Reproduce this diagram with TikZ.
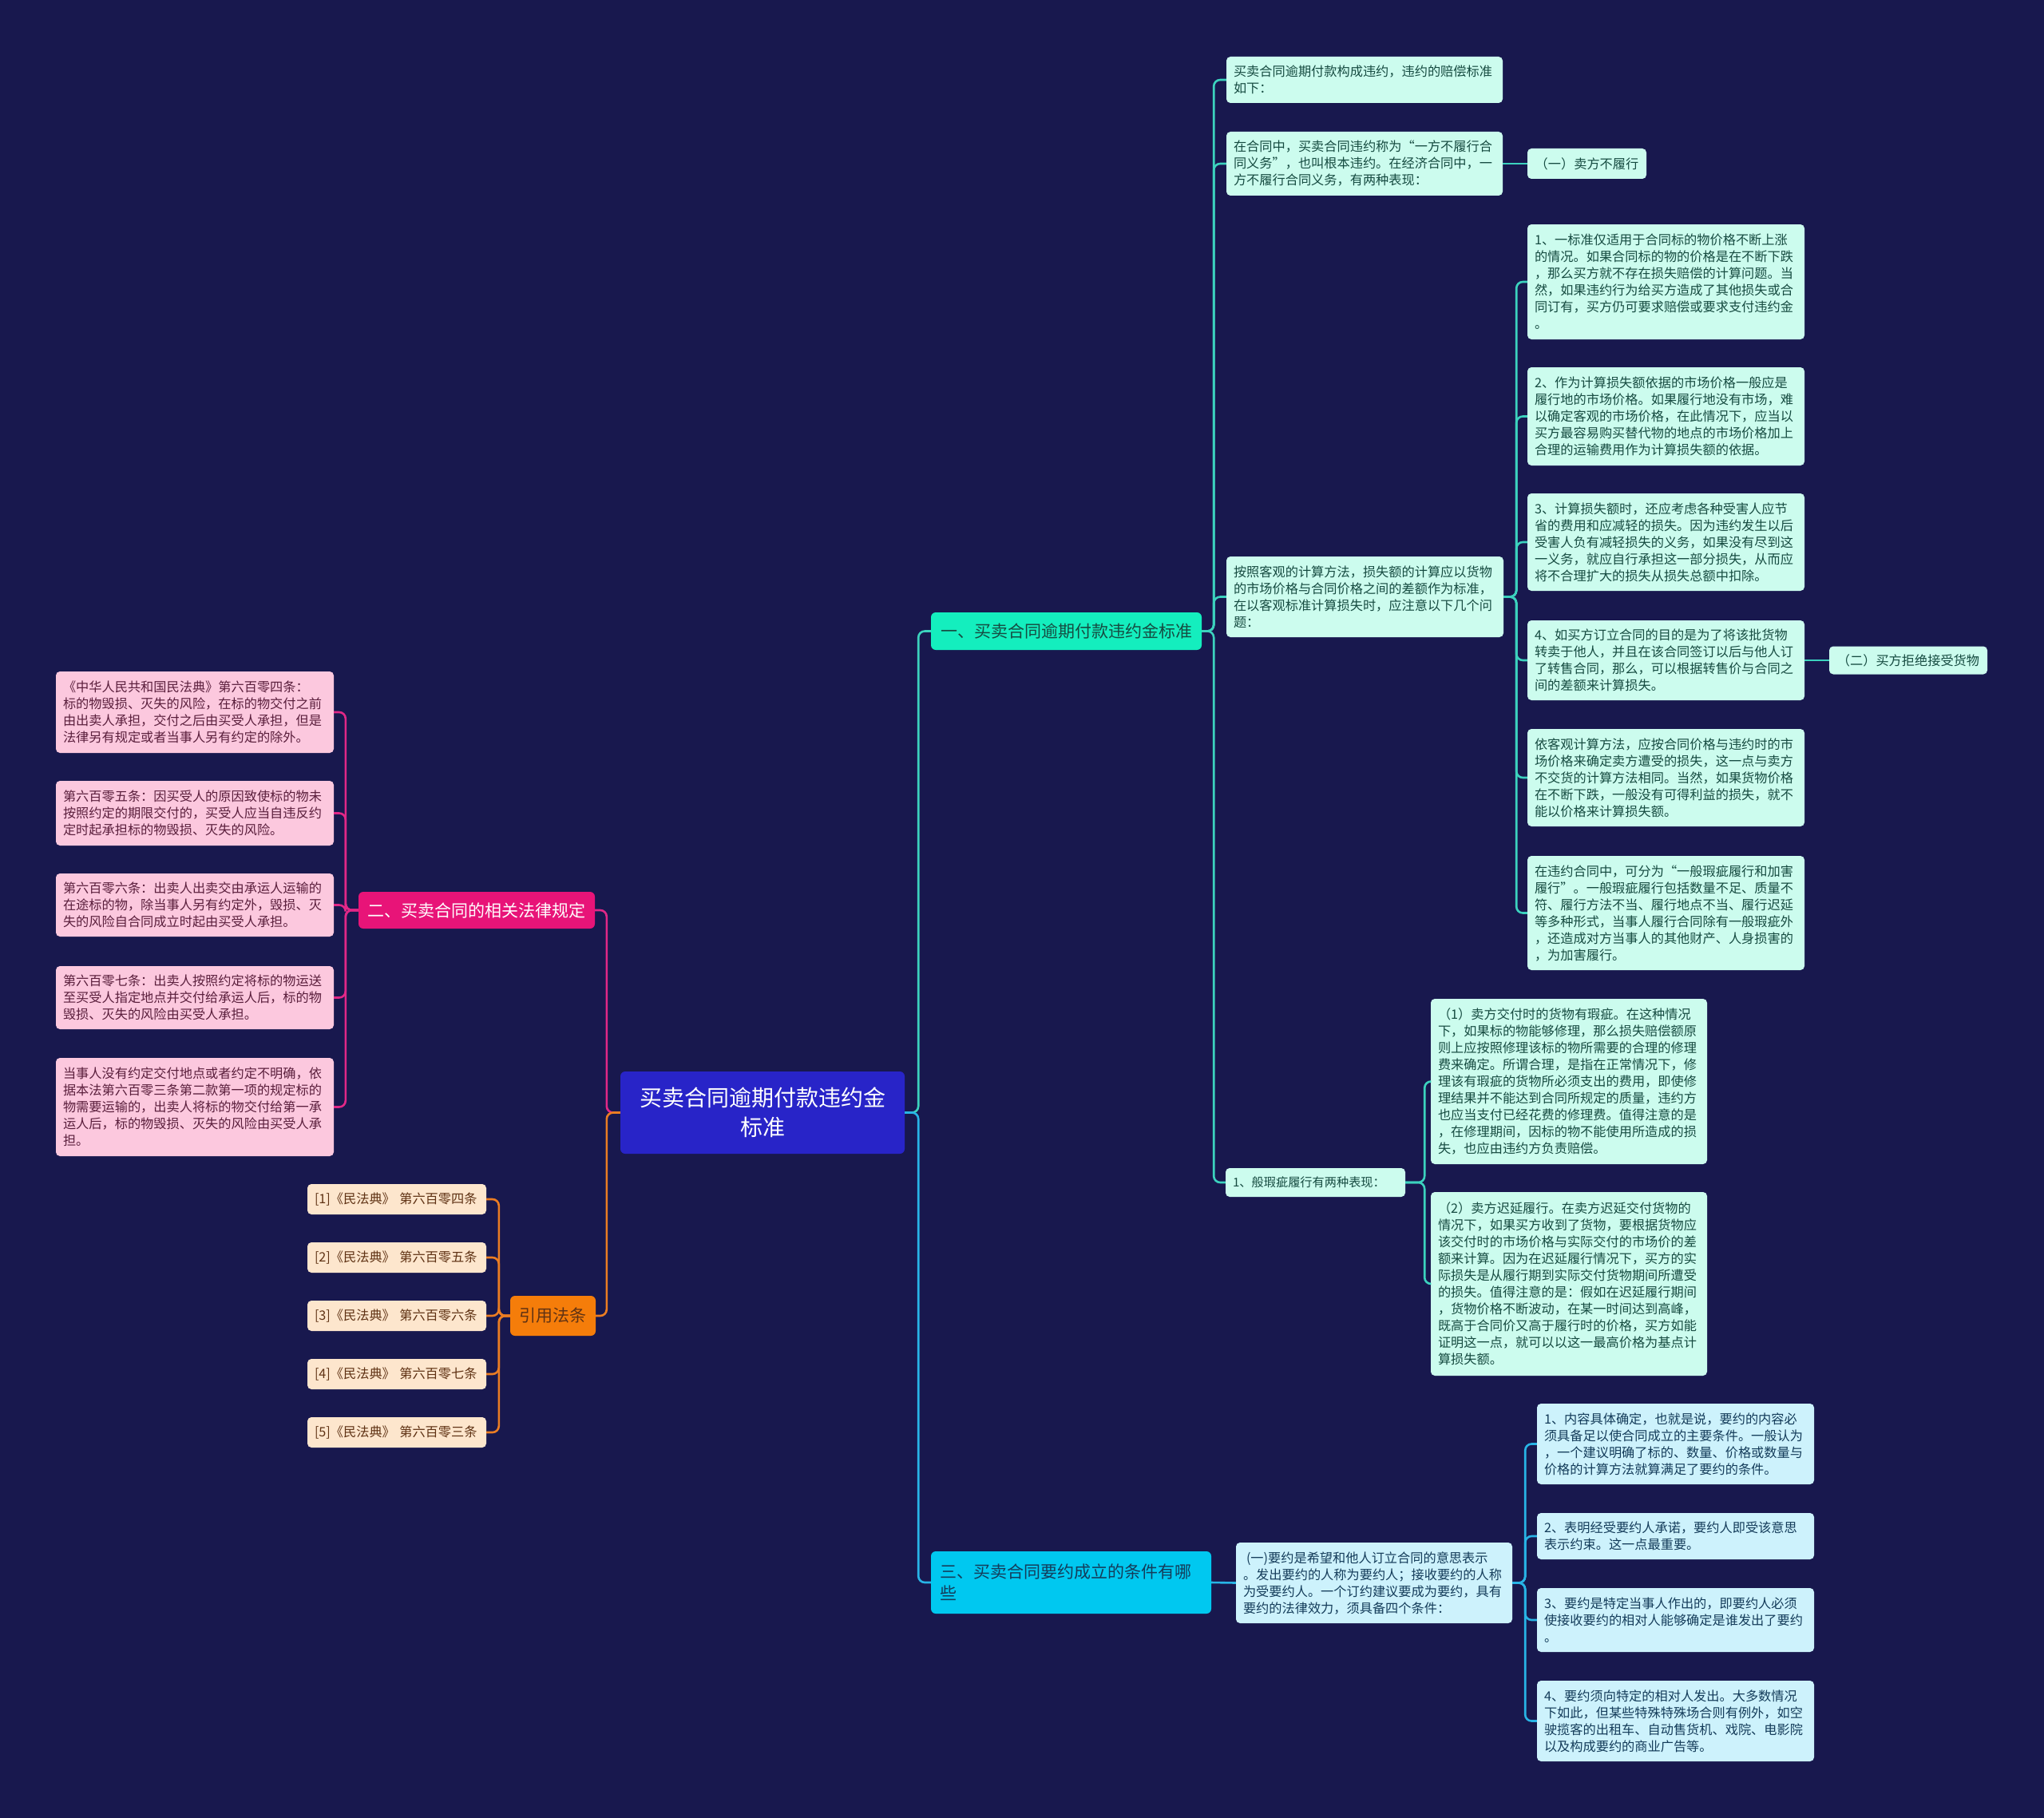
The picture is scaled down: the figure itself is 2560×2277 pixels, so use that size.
\documentclass[tikz,border=0pt]{standalone}
\usepackage{fontspec}
\setmainfont{Noto Sans CJK SC}
\usetikzlibrary{positioning}
\definecolor{bgc}{RGB}{24,24,78}
\definecolor{rootc}{RGB}{40,36,200}
\definecolor{topc1}{RGB}{20,238,190}
\definecolor{topc2}{RGB}{232,20,120}
\definecolor{topc3}{RGB}{0,200,240}
\definecolor{topc4}{RGB}{245,125,10}
\definecolor{lk1}{RGB}{60,210,190}
\definecolor{lk2}{RGB}{225,40,135}
\definecolor{lk3}{RGB}{40,180,230}
\definecolor{lk4}{RGB}{235,125,35}
\definecolor{lf1}{RGB}{204,252,238}
\definecolor{lf2}{RGB}{252,200,222}
\definecolor{lf3}{RGB}{205,242,252}
\definecolor{lf4}{RGB}{253,230,205}
\definecolor{tx1}{RGB}{22,75,65}
\definecolor{tx2}{RGB}{90,30,60}
\definecolor{tx3}{RGB}{20,60,90}
\definecolor{tx4}{RGB}{95,50,20}
\newcommand{\leaffont}{\fontsize{16.2}{21}\selectfont}
\newcommand{\smleaffont}{\fontsize{15.2}{21}\selectfont}
\newcommand{\topicfont}{\fontsize{21}{27}\selectfont}
\newcommand{\rootfont}{\fontsize{28}{37}\selectfont}
\tikzset{
rootbox/.style = {fill=rootc, text=white, rounded corners=6pt, align=center,
                  font=\rootfont, minimum width=356pt, minimum height=103pt},
topicbox/.style = {rounded corners=6pt, font=\topicfont, inner xsep=11pt, inner ysep=0pt},
leafbox/.style = {rounded corners=5pt, font=\leaffont, align=left,
                  inner xsep=9pt, inner ysep=0pt, text width=329pt},
leaf1/.style = {leafbox, fill=lf1, text=tx1},
leaf2/.style = {leafbox, fill=lf2, text=tx2, text width=330pt},
leaf3/.style = {leafbox, fill=lf3, text=tx3},
leaf4/.style = {leafbox, fill=lf4, text=tx4, text width=206pt, minimum height=38pt},
link1/.style = {draw=lk1, line width=2.6pt, rounded corners=8pt},
link2/.style = {draw=lk2, line width=2.6pt, rounded corners=8pt},
link3/.style = {draw=lk3, line width=2.6pt, rounded corners=8pt},
link4/.style = {draw=lk4, line width=2.6pt, rounded corners=8pt}
}
\begin{document}
\begin{tikzpicture}[x=1pt, y=-1pt]
    \fill[bgc] (0,0) rectangle (2560,2277);
    \useasboundingbox (0,0) rectangle (2560,2277);

    \node [rootbox] (root) at (955,1393.5) {买卖合同逾期付款违约金\\标准};

    \node [topicbox, fill=topc1, text=tx1, minimum width=339pt, minimum height=47pt]
    (br1) at (1335.5,790.5) {一、买卖合同逾期付款违约金标准};
    \node [topicbox, fill=topc3, text=tx3, minimum width=351pt, minimum height=78pt,
    text width=329pt, align=left] (br3) at (1341.5,1982) {三、买卖合同要约成立的条件有哪\\些};
    \node [topicbox, fill=topc2, text=white, minimum width=296pt, minimum height=46pt]
    (br2) at (597,1140) {二、买卖合同的相关法律规定};
    \node [topicbox, fill=topc4, text=tx4, minimum width=107pt, minimum height=50pt]
    (cite) at (692.5,1648) {引用法条};

    % first branch
    \node [leaf1, text width=328pt, minimum height=58pt] (a1) at (1709,100)
    {买卖合同逾期付款构成违约，违约的赔偿标准\\如下：};
    \node [leaf1, text width=328pt, minimum height=80pt] (a2) at (1709,205)
    {在合同中，买卖合同违约称为“一方不履行合\\同义务”，也叫根本违约。在经济合同中，一\\方不履行合同义务，有两种表现：};
    \node [leaf1, text width=131pt, align=center, minimum height=38pt] (s1) at (1987.5,205)
    {（一）卖方不履行};
    \node [leaf1, minimum height=101pt] (a3) at (1709.5,747.5)
    {按照客观的计算方法，损失额的计算应以货物\\的市场价格与合同价格之间的差额作为标准，\\在以客观标准计算损失时，应注意以下几个问\\题：};
    \node [leaf1, font=\smleaffont, text width=207pt, minimum height=36pt] (a4) at (1647.5,1481)
    {1、般瑕疵履行有两种表现：};

    \node [leaf1, minimum height=144pt] (p1) at (2086.5,353)
    {1、一标准仅适用于合同标的物价格不断上涨\\的情况。如果合同标的物的价格是在不断下跌\\，那么买方就不存在损失赔偿的计算问题。当\\然，如果违约行为给买方造成了其他损失或合\\同订有，买方仍可要求赔偿或要求支付违约金\\。};
    \node [leaf1, minimum height=123pt] (p2) at (2086.5,521.5)
    {2、作为计算损失额依据的市场价格一般应是\\履行地的市场价格。如果履行地没有市场，难\\以确定客观的市场价格，在此情况下，应当以\\买方最容易购买替代物的地点的市场价格加上\\合理的运输费用作为计算损失额的依据。};
    \node [leaf1, minimum height=122pt] (p3) at (2086.5,679)
    {3、计算损失额时，还应考虑各种受害人应节\\省的费用和应减轻的损失。因为违约发生以后\\受害人负有减轻损失的义务，如果没有尽到这\\一义务，就应自行承担这一部分损失，从而应\\将不合理扩大的损失从损失总额中扣除。};
    \node [leaf1, minimum height=100pt] (p4) at (2086.5,827)
    {4、如买方订立合同的目的是为了将该批货物\\转卖于他人，并且在该合同签订以后与他人订\\了转售合同，那么，可以根据转售价与合同之\\间的差额来计算损失。};
    \node [leaf1, text width=180pt, align=center, minimum height=35pt] (s2) at (2390,827)
    {（二）买方拒绝接受货物};
    \node [leaf1, minimum height=122pt] (p5) at (2086.5,974)
    {依客观计算方法，应按合同价格与违约时的市\\场价格来确定卖方遭受的损失，这一点与卖方\\不交货的计算方法相同。当然，如果货物价格\\在不断下跌，一般没有可得利益的损失，就不\\能以价格来计算损失额。};
    \node [leaf1, minimum height=143pt] (p6) at (2086.5,1143.5)
    {在违约合同中，可分为“一般瑕疵履行和加害\\履行”。一般瑕疵履行包括数量不足、质量不\\符、履行方法不当、履行地点不当、履行迟延\\等多种形式，当事人履行合同除有一般瑕疵外\\，还造成对方当事人的其他财产、人身损害的\\，为加害履行。};

    \node [leaf1, text width=328pt, minimum height=207pt] (q1) at (1965,1354.5)
    {（1）卖方交付时的货物有瑕疵。在这种情况\\下，如果标的物能够修理，那么损失赔偿额原\\则上应按照修理该标的物所需要的合理的修理\\费来确定。所谓合理，是指在正常情况下，修\\理该有瑕疵的货物所必须支出的费用，即使修\\理结果并不能达到合同所规定的质量，违约方\\也应当支付已经花费的修理费。值得注意的是\\，在修理期间，因标的物不能使用所造成的损\\失，也应由违约方负责赔偿。};
    \node [leaf1, text width=328pt, minimum height=230pt] (q2) at (1965,1608)
    {（2）卖方迟延履行。在卖方迟延交付货物的\\情况下，如果买方收到了货物，要根据货物应\\该交付时的市场价格与实际交付的市场价的差\\额来计算。因为在迟延履行情况下，买方的实\\际损失是从履行期到实际交付货物期间所遭受\\的损失。值得注意的是：假如在迟延履行期间\\，货物价格不断波动，在某一时间达到高峰，\\既高于合同价又高于履行时的价格，买方如能\\证明这一点，就可以以这一最高价格为基点计\\算损失额。};

    % third branch
    \node [leaf3, text width=328pt, minimum height=101pt] (d1) at (1721,1982.5)
    {\hspace{4pt}(一)要约是希望和他人订立合同的意思表示\\。发出要约的人称为要约人；接收要约的人称\\为受要约人。一个订约建议要成为要约，具有\\要约的法律效力，须具备四个条件：};
    \node [leaf3, minimum height=101pt] (e1) at (2098.5,1808.5)
    {1、内容具体确定，也就是说，要约的内容必\\须具备足以使合同成立的主要条件。一般认为\\，一个建议明确了标的、数量、价格或数量与\\价格的计算方法就算满足了要约的条件。};
    \node [leaf3, minimum height=58pt] (e2) at (2098.5,1924)
    {2、表明经受要约人承诺，要约人即受该意思\\表示约束。这一点最重要。};
    \node [leaf3, minimum height=80pt] (e3) at (2098.5,2029)
    {3、要约是特定当事人作出的，即要约人必须\\使接收要约的相对人能够确定是谁发出了要约\\。};
    \node [leaf3, minimum height=101pt] (e4) at (2098.5,2155.5)
    {4、要约须向特定的相对人发出。大多数情况\\下如此，但某些特殊特殊场合则有例外，如空\\驶揽客的出租车、自动售货机、戏院、电影院\\以及构成要约的商业广告等。};

    % left side
    \node [leaf2, minimum height=102pt] (l1) at (244,892)
    {《中华人民共和国民法典》第六百零四条：\\标的物毁损、灭失的风险，在标的物交付之前\\由出卖人承担，交付之后由买受人承担，但是\\法律另有规定或者当事人另有约定的除外。};
    \node [leaf2, minimum height=81pt] (l2) at (244,1018.5)
    {第六百零五条：因买受人的原因致使标的物未\\按照约定的期限交付的，买受人应当自违反约\\定时起承担标的物毁损、灭失的风险。};
    \node [leaf2, minimum height=79pt] (l3) at (244,1133.5)
    {第六百零六条：出卖人出卖交由承运人运输的\\在途标的物，除当事人另有约定外，毁损、灭\\失的风险自合同成立时起由买受人承担。};
    \node [leaf2, minimum height=79pt] (l4) at (244,1249.5)
    {第六百零七条：出卖人按照约定将标的物运送\\至买受人指定地点并交付给承运人后，标的物\\毁损、灭失的风险由买受人承担。};
    \node [leaf2, minimum height=123pt] (l5) at (244,1386.5)
    {当事人没有约定交付地点或者约定不明确，依\\据本法第六百零三条第二款第一项的规定标的\\物需要运输的，出卖人将标的物交付给第一承\\运人后，标的物毁损、灭失的风险由买受人承\\担。};

    \node [leaf4] (r1) at (497,1502) {[1]《民法典》 第六百零四条};
    \node [leaf4, below of=r1, node distance=73pt] (r2) {[2]《民法典》 第六百零五条};
    \node [leaf4, below of=r2, node distance=73pt] (r3) {[3]《民法典》 第六百零六条};
    \node [leaf4, below of=r3, node distance=73pt] (r4) {[4]《民法典》 第六百零七条};
    \node [leaf4, below of=r4, node distance=73pt] (r5) {[5]《民法典》 第六百零三条};

    % connectors
    \draw [link1] (root.east) -- ++(17,0) |- (br1.west);
    \draw [link3] (root.east) -- ++(17,0) |- (br3.west);
    \draw [link2] (root.west) -- ++(-17,0) |- (br2.east);
    \draw [link4] (root.west) -- ++(-17,0) |- (cite.east);

    \draw [link1] (br1.east) -- ++(15,0) |- (a1.west);
    \draw [link1] (br1.east) -- ++(15,0) |- (a2.west);
    \draw [link1] (br1.east) -- ++(15,0) |- (a3.west);
    \draw [link1] (br1.east) -- ++(15,0) |- (a4.west);
    \draw [link1] (a2.east) -- (s1.west);

    \draw [link1] (a3.east) -- ++(16,0) |- (p1.west);
    \draw [link1] (a3.east) -- ++(16,0) |- (p2.west);
    \draw [link1] (a3.east) -- ++(16,0) |- (p3.west);
    \draw [link1] (a3.east) -- ++(16,0) |- (p4.west);
    \draw [link1] (a3.east) -- ++(16,0) |- (p5.west);
    \draw [link1] (a3.east) -- ++(16,0) |- (p6.west);
    \draw [link1] (p4.east) -- (s2.west);

    \draw [link1] (a4.east) -- ++(24,0) |- (q1.west);
    \draw [link1] (a4.east) -- ++(24,0) |- (q2.west);

    \draw [link3] (br3.east) -- (d1.west);
    \draw [link3] (d1.east) -- ++(16,0) |- (e1.west);
    \draw [link3] (d1.east) -- ++(16,0) |- (e2.west);
    \draw [link3] (d1.east) -- ++(16,0) |- (e3.west);
    \draw [link3] (d1.east) -- ++(16,0) |- (e4.west);

    \draw [link2] (br2.west) -- ++(-16,0) |- (l1.east);
    \draw [link2] (br2.west) -- ++(-16,0) |- (l2.east);
    \draw [link2] (br2.west) -- ++(-16,0) |- (l3.east);
    \draw [link2] (br2.west) -- ++(-16,0) |- (l4.east);
    \draw [link2] (br2.west) -- ++(-16,0) |- (l5.east);

    \draw [link4] (cite.west) -- ++(-14,0) |- (r1.east);
    \draw [link4] (cite.west) -- ++(-14,0) |- (r2.east);
    \draw [link4] (cite.west) -- ++(-14,0) |- (r3.east);
    \draw [link4] (cite.west) -- ++(-14,0) |- (r4.east);
    \draw [link4] (cite.west) -- ++(-14,0) |- (r5.east);
\end{tikzpicture}
\end{document}
